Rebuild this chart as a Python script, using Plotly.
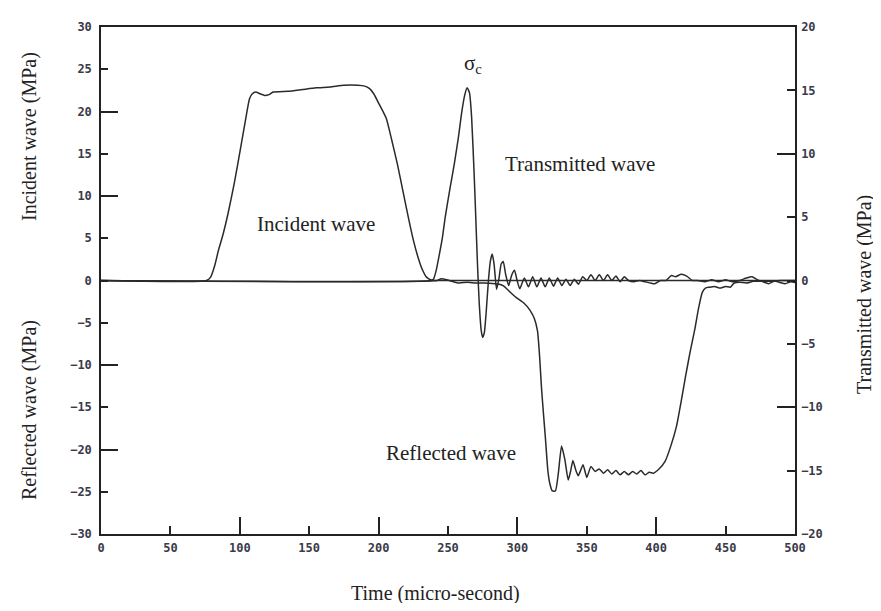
import plotly.graph_objects as go

# ---------------- data ----------------
# Incident wave (left axis, MPa)
t_inc = [0, 76, 79, 82, 84.5, 88, 91.5, 96, 100.5, 104,
         107, 109, 111.5, 114.5, 118, 121, 124, 135, 145, 155,
         165, 175, 185, 190, 193.5, 196.5, 200, 205.5, 209.5, 213.5,
         217.5, 221.5, 225, 228.5, 231.5, 234.5, 238, 242, 500]
v_inc = [0, 0, 0.4, 1.8, 3.5, 5.5, 7.9, 11.5, 15.6, 18.9,
         21.5, 22.1, 22.3, 22.1, 21.9, 22.0, 22.3, 22.4, 22.6, 22.8,
         22.9, 23.1, 23.1, 23.0, 22.7, 22.1, 21.0, 19.2, 16.6, 13.8,
         10.6, 7.4, 4.8, 2.7, 1.3, 0.4, 0.05, 0, 0]

# Reflected wave (left axis, MPa)
t_ref = [0, 242, 245, 249, 253, 258, 264, 270, 276, 282,
         287, 290, 294.6, 299, 304.8, 309, 312.2, 314.5, 316, 317.4,
         318.8, 320.2, 322, 323.6, 325.2, 327.4, 329.5, 331.8, 334.2, 336.6,
         338.3, 340, 342, 343.8, 345.5, 347.3, 350, 353, 356, 359,
         362, 365, 368, 371, 374, 377, 380, 383, 386, 389,
         392, 395, 398, 402, 406.4, 410.5, 414.7, 418, 421.2, 424.5,
         427.9, 430.5, 433.2, 435.5, 438.2, 442, 446, 450, 453.4, 456.2,
         460, 465, 470, 480, 490, 500]
v_ref = [0, 0, 0.2, 0.1, -0.1, -0.3, -0.2, -0.3, -0.3, -0.35,
         -0.45, -0.65, -1.35, -2.0, -2.7, -3.5, -4.5, -6.0, -9.0, -12.8,
         -15.8, -18.7, -22.6, -24.2, -24.9, -24.9, -22.8, -19.6, -21.2, -23.6,
         -22.6, -21.3, -22.4, -23.1, -22.5, -21.8, -23.3, -22.0, -22.6, -22.3,
         -22.8, -22.4, -22.9, -22.5, -23.0, -22.6, -23.0, -22.6, -22.9, -22.5,
         -23.0, -22.7, -22.8, -22.3, -21.4, -19.6, -17.2, -14.3, -11.3, -8.4,
         -5.7, -3.3, -1.4, -0.9, -0.8, -0.7, -0.9, -0.7, -0.8, -0.3,
         -0.2, -0.3, -0.1, -0.1, 0, 0]

# Transmitted wave (right axis, MPa)
t_tra = [0, 238, 239.5, 241.5, 243.5, 246, 248, 251.5, 254.7, 257.5,
         259.8, 262, 263.8, 265.5, 267, 268.8, 270, 271.2, 272.5, 274,
         275, 276.2, 277.5, 279.2, 280.5, 281.8, 283.2, 285, 286.8, 288.3,
         289.8, 291.5, 293.7, 295.8, 297.9, 299.8, 301.7, 305, 308, 311,
         314, 317, 320, 323, 326, 329, 332, 335, 338, 341,
         344, 347, 350, 353, 356, 359, 362, 365, 368, 371,
         374, 377, 380, 384, 388, 392, 396, 399, 403, 407,
         411, 414, 418, 422, 426, 430, 435, 440, 445, 450,
         455, 460, 465, 469, 473, 477, 481, 485, 489, 493,
         497, 500]
v_tra = [0, 0, 0.1, 0.8, 1.9, 3.4, 5.0, 7.3, 9.3, 11.3,
         13.2, 14.6, 15.2, 14.8, 12.9, 8.5, 5.0, 1.4, -1.8, -4.0,
         -4.5, -4.1, -2.5, 0.1, 1.5, 2.1, 1.3, -0.7, 0.2, 1.3,
         1.5, 0.5, -0.4, 0.4, 0.8, 0.0, -0.65, 0.2, -0.5, 0.3,
         -0.5, 0.2, -0.5, 0.2, -0.45, 0.2, -0.4, 0.1, -0.4, 0.1,
         -0.3, 0.3, 0.0, 0.45, 0.0, 0.45, 0.0, 0.45, 0.0, 0.35,
         -0.1, 0.3, 0.0, -0.1, 0.0, -0.1, -0.2, -0.25, 0.0, 0.0,
         0.4, 0.3, 0.5, 0.35, 0.0, 0.0, -0.1, 0.05, -0.1, 0.05,
         -0.1, 0.0, 0.2, 0.3, 0.05, -0.1, -0.25, -0.05, -0.15, -0.25,
         -0.1, -0.15]

x_ticks = [0, 50, 100, 150, 200, 250, 300, 350, 400, 450, 500]
x_major = [100, 200, 300, 400]
yl_ticks = [-30, -25, -20, -15, -10, -5, 0, 5, 10, 15, 20, 25, 30]
yl_major = [-20, -10, 10, 20]
yr_ticks = [-20, -15, -10, -5, 0, 5, 10, 15, 20]
yr_major = [-10, 10]

labels = {"inc": "Incident wave", "tra": "Transmitted wave", "ref": "Reflected wave"}

# ---------------- figure ----------------
LINE = "#2a2a2a"
TICKFONT = dict(family="DejaVu Sans Mono", size=12, color="#3a3a48", weight="bold")
SERIF = "Liberation Serif"

fig = go.Figure()
fig.add_trace(go.Scatter(x=t_inc, y=v_inc, mode="lines", xaxis="x", yaxis="y",
                         line=dict(color=LINE, width=1.5, shape="spline", smoothing=0.5),
                         name=labels["inc"], showlegend=False))
fig.add_trace(go.Scatter(x=t_ref, y=v_ref, mode="lines", xaxis="x", yaxis="y3",
                         line=dict(color=LINE, width=1.5, shape="spline", smoothing=0.5),
                         name=labels["ref"], showlegend=False))
fig.add_trace(go.Scatter(x=t_tra, y=v_tra, mode="lines", xaxis="x2", yaxis="y2",
                         line=dict(color=LINE, width=1.5, shape="spline", smoothing=0.5),
                         name=labels["tra"], showlegend=False))
fig.add_trace(go.Scatter(x=[], y=[], mode="lines", xaxis="x2", yaxis="y4",
                         showlegend=False, hoverinfo="skip"))

common = dict(showgrid=False, zeroline=False, ticks="inside", tickcolor="#222",
              tickwidth=1.5)

# the page body adds an 8 px offset, so the figure is drawn 8 px smaller
FIG_W, FIG_H = 873, 595
fig.update_layout(
    width=FIG_W, height=FIG_H,
    margin=dict(l=93, r=86, t=19, b=69),
    paper_bgcolor="white", plot_bgcolor="white",
    showlegend=False,
    xaxis=dict(range=[0, 500], tickvals=x_ticks, ticklen=8, showline=True,
               linecolor="#222", linewidth=1.5, mirror=True,
               tickfont=TICKFONT, ticklabelstandoff=2, **common),
    xaxis2=dict(range=[0, 500], overlaying="x", anchor="y2", side="bottom",
                tickvals=x_major, ticklen=17, showticklabels=False,
                showline=False, **common),
    yaxis=dict(range=[-30, 30], tickvals=yl_ticks, ticklen=7, showline=True,
               linecolor="#222", linewidth=1.5, tickfont=TICKFONT,
               ticklabelstandoff=5, **common),
    yaxis3=dict(range=[-30, 30], overlaying="y", anchor="x", side="left",
                tickvals=yl_major, ticklen=17, showticklabels=False,
                showline=False, **common),
    yaxis2=dict(range=[-20, 20], overlaying="y", anchor="x2", side="right",
                tickvals=yr_ticks, ticklen=8, showline=True,
                linecolor="#222", linewidth=1.5, tickfont=TICKFONT,
                ticklabelstandoff=2, **common),
    yaxis4=dict(range=[-20, 20], overlaying="y", anchor="x2", side="right",
                tickvals=yr_major, ticklen=18, showticklabels=False,
                showline=False, **common),
)

# plot area in screen pixels
W, H, L, B = 694, 507, 101, 534

def px(x):
    return (x - L) / W

def py(y):
    return (B - y) / H

titles = [
    ("Incident wave (MPa)", px(29), py(137), -90),
    ("Reflected wave (MPa)", px(29), py(410), -90),
    ("Transmitted wave (MPa)", px(864), py(295), -90),
    ("Time (micro-second)", px(435), py(593), 0),
]
for text, x, y, ang in titles:
    fig.add_annotation(text=text, xref="paper", yref="paper", x=x, y=y,
                       xanchor="center", yanchor="middle", textangle=ang,
                       showarrow=False, font=dict(family=SERIF, size=20, color="#222"))

for text, x, y in [(labels["inc"], 155, 6.7), (labels["tra"], 345, 13.8),
                   (labels["ref"], 252, -20.4)]:
    fig.add_annotation(text=text, xref="x", yref="y", x=x, y=y,
                       xanchor="center", yanchor="middle", showarrow=False,
                       font=dict(family=SERIF, size=21, color="#222"))

fig.add_annotation(text="σ<sub>c</sub>", xref="x", yref="y", x=268, y=25.6,
                   xanchor="center", yanchor="middle", showarrow=False,
                   font=dict(family=SERIF, size=21, color="#222"))

fig.write_html("out.html")
